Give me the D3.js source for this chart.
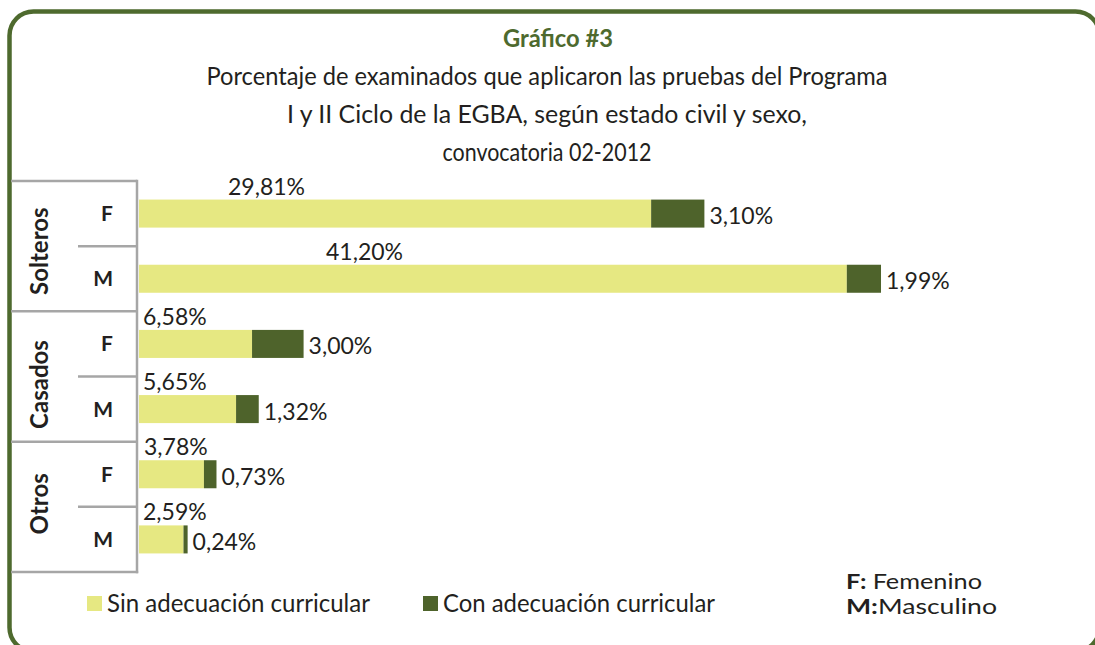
<!DOCTYPE html>
<html>
<head>
<meta charset="utf-8">
<script src="https://cdn.jsdelivr.net/npm/d3@7"></script>
<style>
  html, body { margin: 0; padding: 0; background: #ffffff; }
  svg { display: block; }
  text { font-family: Lato, "Liberation Sans", sans-serif; fill: #231f20; }
</style>
</head>
<body>
<script>
// ---- data ----
const groups = ["Solteros", "Casados", "Otros"];
const rowLabels = ["F", "M", "F", "M", "F", "M"];
const sinValues = [29.81, 41.20, 6.58, 5.65, 3.78, 2.59];
const conValues = [3.10, 1.99, 3.00, 1.32, 0.73, 0.24];
const seriesNames = ["Sin adecuación curricular", "Con adecuación curricular"];
const titleLines = [
  "Porcentaje de examinados que aplicaron las pruebas del Programa",
  "I y II Ciclo de la EGBA, según estado civil y sexo,",
  "convocatoria 02-2012"
];
const sexKey = [["F:", "Femenino"], ["M:", "Masculino"]];

// ---- layout ----
const W = 1095, H = 645;
const lightColor = "#e6e882", darkColor = "#4e632b", borderColor = "#4e6a2e", gridGray = "#a6a6a6";
const labelNudge = [89, 187, 4, 4, 5, 4];

const svg = d3.select("body").append("svg").attr("width", W).attr("height", H);

// rounded frame
svg.append("rect")
  .attr("x", 9.5).attr("y", 11.5).attr("width", 1090).attr("height", 640)
  .attr("rx", 24).attr("ry", 24)
  .attr("fill", "none").attr("stroke", borderColor).attr("stroke-width", 4.5);

// titles
svg.append("text").attr("x", 558).attr("y", 47).attr("text-anchor", "middle")
  .attr("font-weight", "bold").attr("font-size", 24).style("fill", borderColor)
  .attr("textLength", 110).attr("lengthAdjust", "spacingAndGlyphs")
  .text("Gráfico #3");
const titleWidths = [681, 520, 209];
titleLines.forEach((t, i) => {
  svg.append("text").attr("x", 547).attr("y", 85 + i * 38).attr("text-anchor", "middle")
    .attr("font-size", 25)
    .attr("textLength", titleWidths[i]).attr("lengthAdjust", "spacingAndGlyphs")
    .text(t);
});

// scales
const idx = d3.range(sinValues.length);
const rowBand = d3.scaleBand().domain(idx).range([181, 572]).padding(0);
const barBand = d3.scaleBand().domain(idx).range([181, 572]).paddingInner(0.57).paddingOuter(0.285);
const x = d3.scaleLinear().domain([0, 45]).range([139, 139 + 45 * 17.18]);

// table lines
const gT = svg.append("g").attr("stroke", gridGray).attr("stroke-width", 2.5).attr("fill", "none");
[0, 2, 4].forEach(i => {
  gT.append("line").attr("x1", 11).attr("x2", 137).attr("y1", rowBand(i)).attr("y2", rowBand(i));
});
gT.append("line").attr("x1", 11).attr("x2", 138.2).attr("y1", 572).attr("y2", 572);
[1, 3, 5].forEach(i => {
  gT.append("line").attr("x1", 78).attr("x2", 137).attr("y1", rowBand(i)).attr("y2", rowBand(i));
});
gT.append("line").attr("x1", 137).attr("x2", 137).attr("y1", 179.8).attr("y2", 573.2);

// group labels
const groupNudge = [5, 8, -3];
groups.forEach((g, gi) => {
  const cy = (rowBand(gi * 2) + rowBand(gi * 2 + 1) + rowBand.bandwidth()) / 2 + groupNudge[gi];
  svg.append("text")
    .attr("transform", `translate(48,${cy}) rotate(-90)`)
    .attr("text-anchor", "middle").attr("font-weight", "bold").attr("font-size", 24)
    .text(g);
});
// row labels
rowLabels.forEach((r, i) => {
  svg.append("text").attr("x", 113).attr("y", rowBand(i) + rowBand.bandwidth() / 2 + 7.5)
    .attr("text-anchor", "end").attr("font-weight", "bold").attr("font-size", 21)
    .text(r);
});

// bars
const fmt = v => d3.format(".2f")(v).replace(".", ",") + "%";
svg.append("g").selectAll("rect").data(idx).join("rect")
  .attr("x", x(0)).attr("y", i => barBand(i))
  .attr("width", i => x(sinValues[i]) - x(0)).attr("height", barBand.bandwidth())
  .attr("fill", lightColor);
svg.append("g").selectAll("rect").data(idx).join("rect")
  .attr("x", i => x(sinValues[i])).attr("y", i => barBand(i))
  .attr("width", i => x(sinValues[i] + conValues[i]) - x(sinValues[i])).attr("height", barBand.bandwidth())
  .attr("fill", darkColor);

// value labels
svg.append("g").selectAll("text").data(idx).join("text")
  .attr("x", i => x(0) + labelNudge[i]).attr("y", i => barBand(i) - 5)
  .attr("font-size", 23).text(i => fmt(sinValues[i]));
svg.append("g").selectAll("text").data(idx).join("text")
  .attr("x", i => x(sinValues[i] + conValues[i]) + 5).attr("y", i => barBand(i) + barBand.bandwidth() - 3.5)
  .attr("font-size", 23).text(i => fmt(conValues[i]));

// legend
const legX = [87, 423], legTextW = [263, 272];
seriesNames.forEach((s, i) => {
  svg.append("rect").attr("x", legX[i]).attr("y", 596).attr("width", 15).attr("height", 15)
    .attr("fill", i === 0 ? lightColor : darkColor);
  svg.append("text").attr("x", legX[i] + 20).attr("y", 612).attr("font-size", 25)
    .attr("textLength", legTextW[i]).attr("lengthAdjust", "spacingAndGlyphs")
    .text(s);
});
const keyW = [136, 151];
sexKey.forEach((k, i) => {
  const t = svg.append("text").attr("x", 846).attr("y", 589 + i * 25).attr("font-size", 21)
    .attr("textLength", keyW[i]).attr("lengthAdjust", "spacingAndGlyphs");
  t.append("tspan").attr("font-weight", "bold").text(k[0] + (i === 0 ? " " : ""));
  t.append("tspan").text(k[1]);
});
</script>
</body>
</html>
